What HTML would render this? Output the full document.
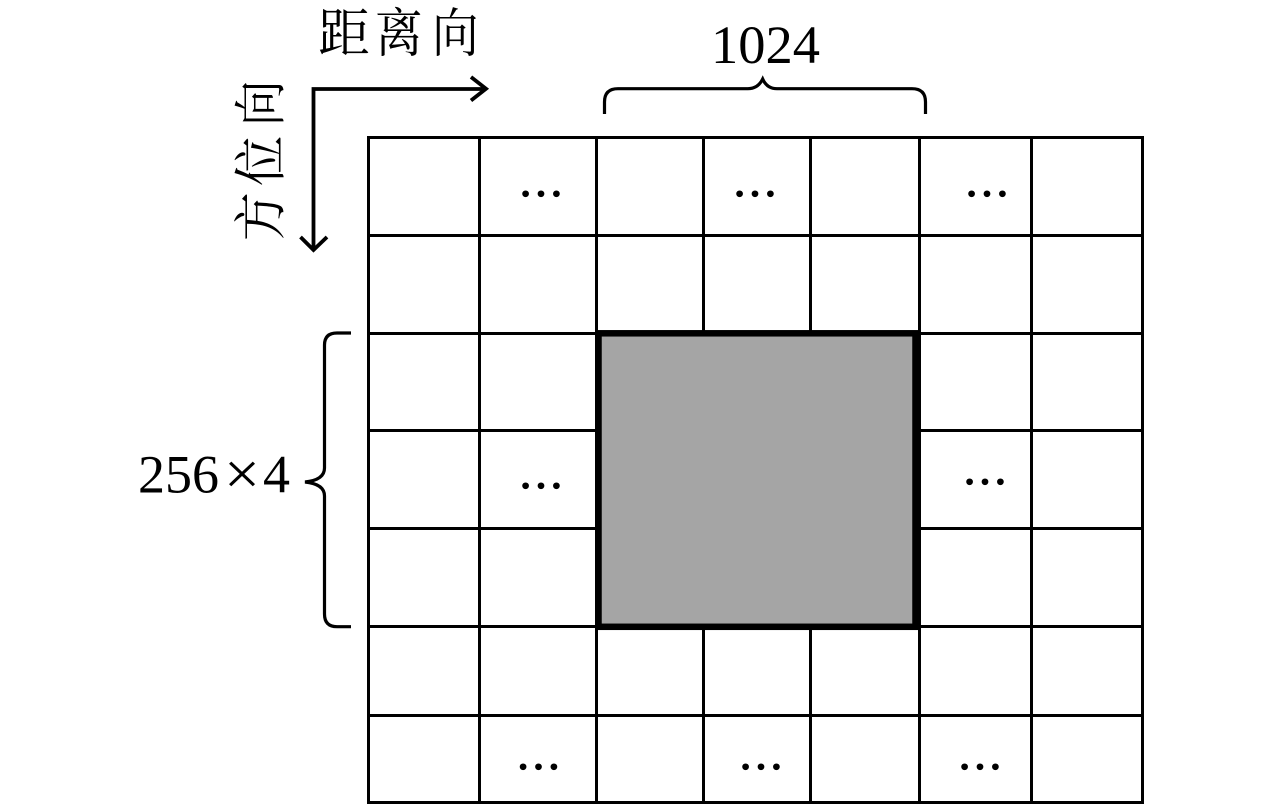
<!DOCTYPE html>
<html><head><meta charset="utf-8"><style>html,body{margin:0;padding:0;background:#fff;width:1280px;height:807px;overflow:hidden}svg{display:block}</style></head><body>
<svg width="1280" height="807" viewBox="0 0 1280 807" xmlns="http://www.w3.org/2000/svg">
<g stroke="#000" stroke-width="3" fill="none">
<path d="M368.500 136V804M479.500 136V804M596.500 136V804M703.500 136V804M810.500 136V804M919.500 136V804M1031.500 136V804M1142.500 136V804"/>
<path d="M367 137.500H1144M367 235.500H1144M367 333.500H1144M367 430.500H1144M367 528.500H1144M367 626.500H1144M367 715.500H1144M367 802.500H1144"/>
</g>
<rect x="598.500" y="333.300" width="317" height="293.500" fill="#a5a5a5" stroke="#000" stroke-width="6.500"/>
<g stroke="#000" stroke-width="3.800" fill="none">
<path d="M313.500 250V89H485"/>
<path d="M471 77L486 88.700L471 100.500"/>
<path d="M300.500 237L313.500 250L327 237"/>
</g>
<g stroke="#000" stroke-width="3.200" fill="none">
<path d="M604.500 114V102Q604.500 88.700 618 88.700H748Q758 88.700 762.700 79Q767 88.700 777 88.700H912Q925.500 88.700 925.500 102V114"/>
<path d="M351 333H337Q324.500 333 324.500 345V468Q324.500 480 305 482Q324.500 484 324.500 496V614Q324.500 626.700 337 626.700H351"/>
</g>
<g font-family="'Liberation Serif','Noto Serif CJK SC',serif" fill="#000">
<text x="711" y="63" font-size="54" textLength="109" lengthAdjust="spacingAndGlyphs">1024</text>
<text x="138" y="492.500" font-size="54" textLength="81" lengthAdjust="spacingAndGlyphs">256</text>
<text x="224" y="494" font-size="60" textLength="36" lengthAdjust="spacingAndGlyphs">×</text>
<text x="263" y="492.500" font-size="54">4</text>
<text transform="translate(318 51.500) scale(.98 1)" font-size="53">距</text>
<text transform="translate(375 51.500) scale(.9 1)" font-size="53">离</text>
<text transform="translate(432 51.500) scale(.88 1)" font-size="53">向</text>
<text transform="translate(279 241) rotate(-90) scale(.92 1)" font-size="53">方</text>
<text transform="translate(279 186) rotate(-90) scale(.95 1)" font-size="53">位</text>
<text transform="translate(279 126) rotate(-90) scale(.86 1)" font-size="53">向</text>
<g font-size="46" text-anchor="middle" stroke="#000" stroke-width="1.300">
<text x="541" y="196">…</text><text x="755" y="196">…</text><text x="987" y="196">…</text>
<text x="541" y="488">…</text><text x="985" y="484">…</text>
<text x="538.500" y="769">…</text><text x="761" y="769">…</text><text x="980" y="769">…</text>
</g>
</g>
</svg>
</body></html>
